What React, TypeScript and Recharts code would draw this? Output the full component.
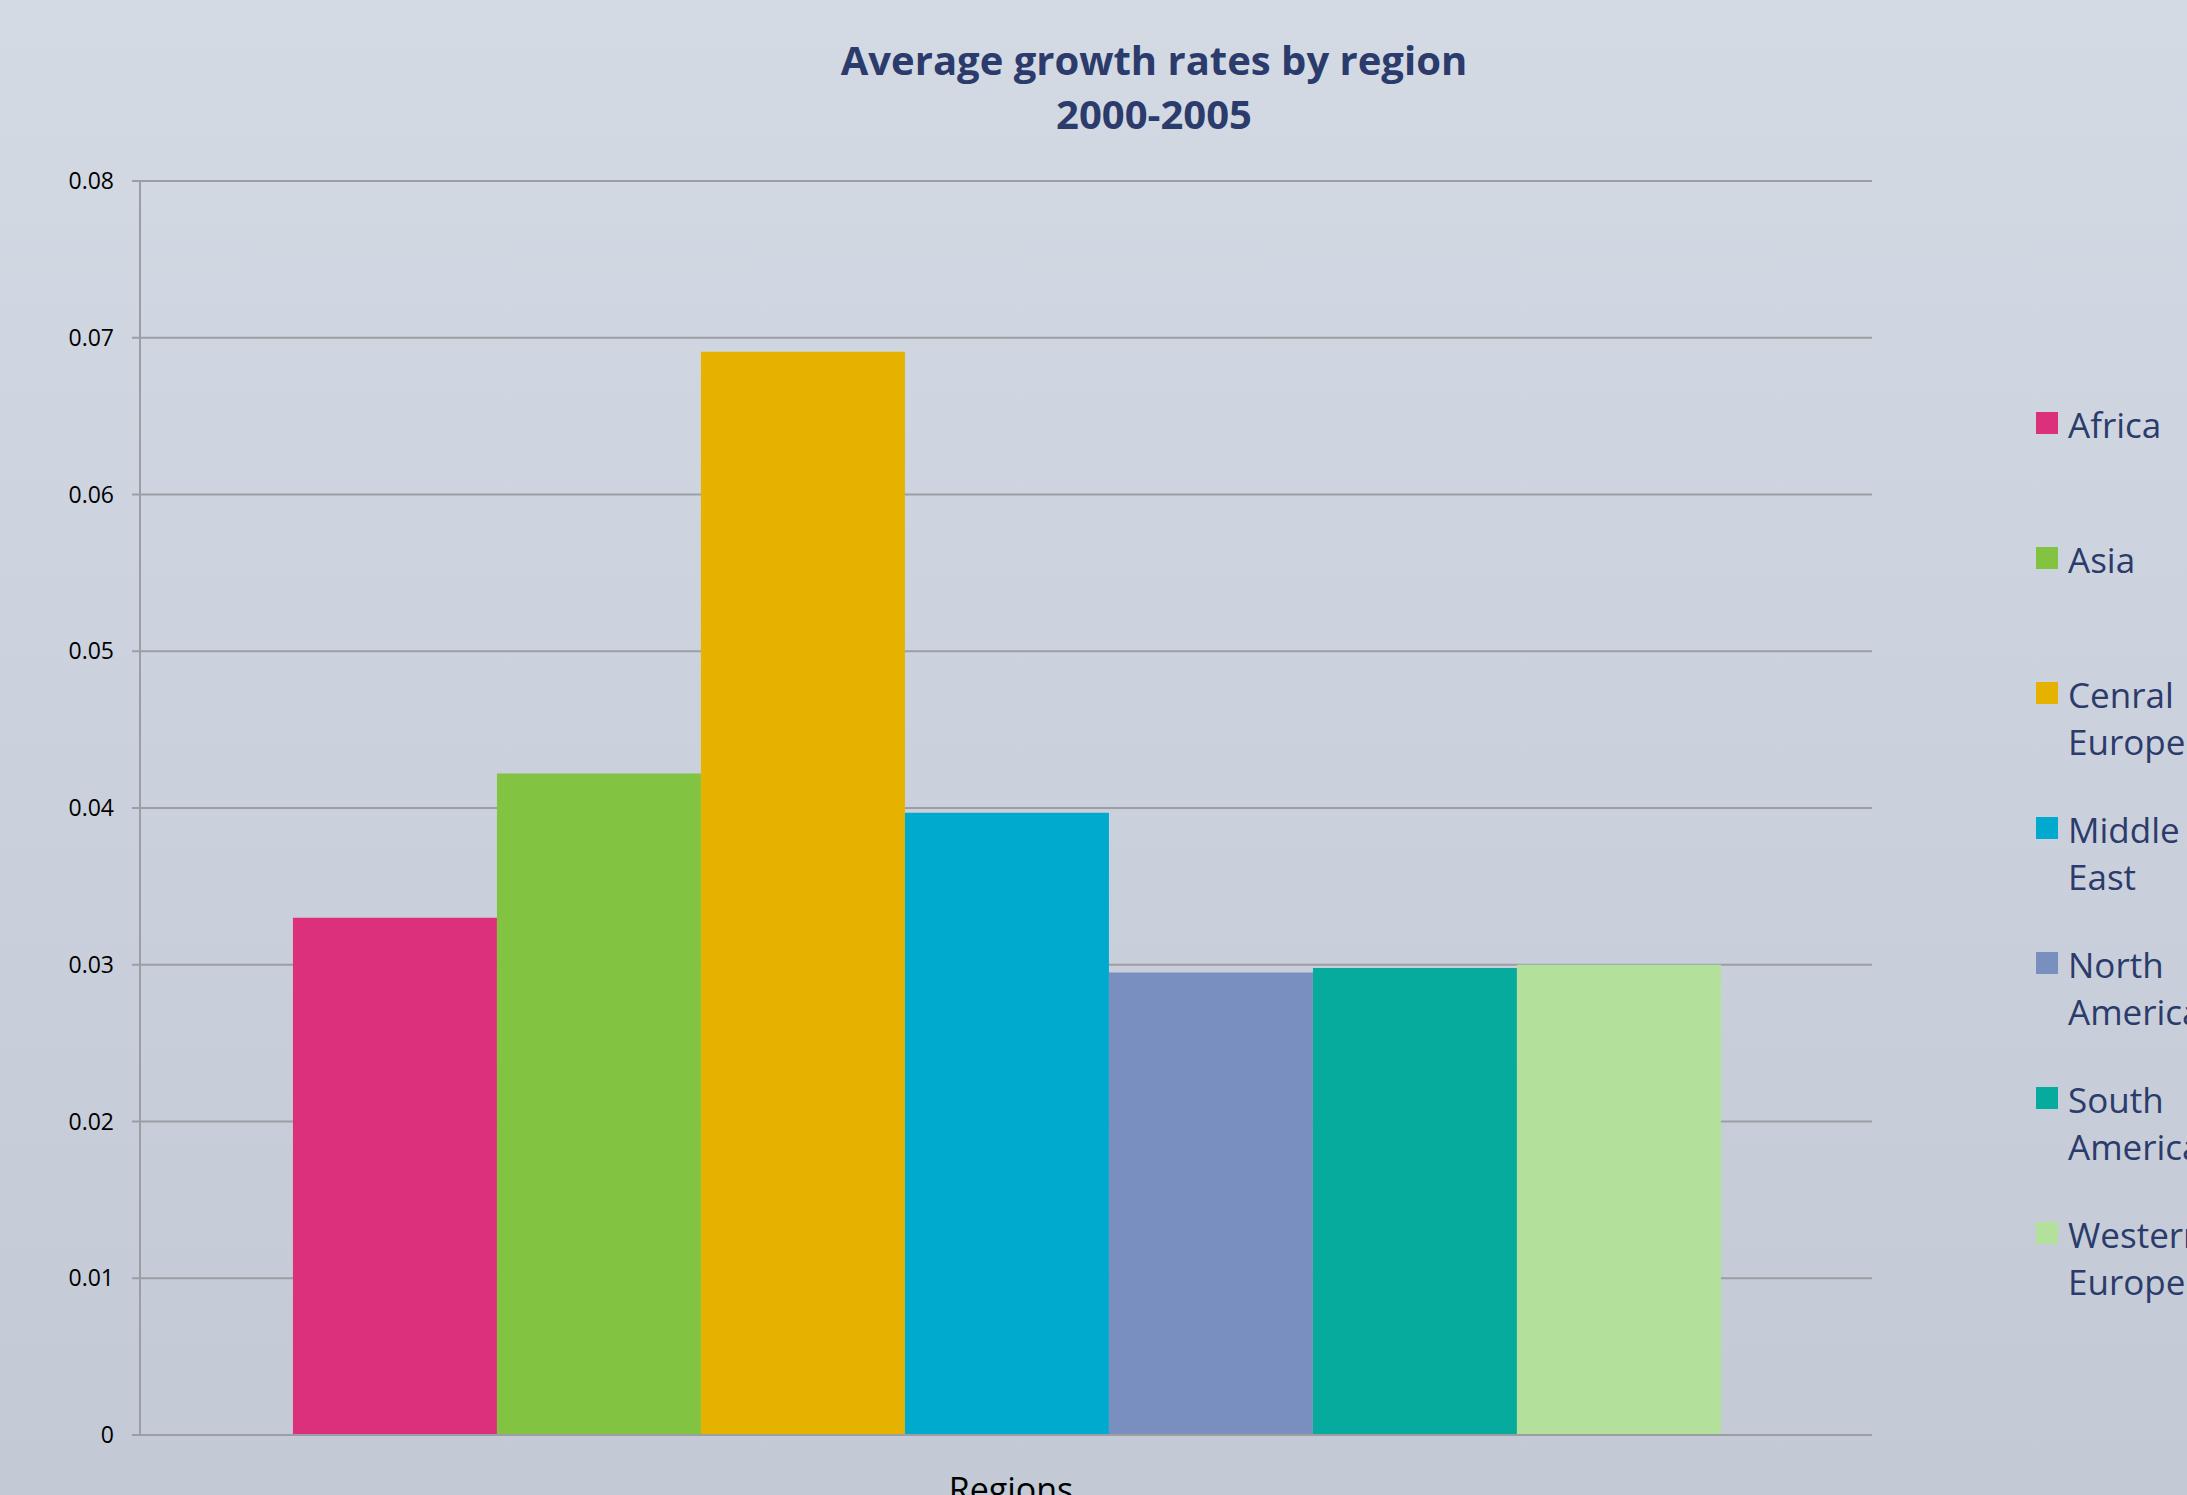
import { BarChart, Bar, XAxis, YAxis, CartesianGrid } from 'recharts'

const regions = ['Africa', 'Asia', 'Cenral Europe', 'Middle East', 'North America', 'South America', 'Western Europe']
const growthRates = [0.033, 0.0422, 0.0691, 0.0397, 0.0295, 0.0298, 0.03]
const regionColors = ['#dc2f7c', '#82c341', '#e5b200', '#00aacf', '#788fbf', '#07ab9e', '#b3e19b']
const yTicks = [0, 0.01, 0.02, 0.03, 0.04, 0.05, 0.06, 0.07, 0.08]

const row: Record<string, number | string> = { category: 'Regions' }
regions.forEach((r, i) => {
  row[r] = growthRates[i]
})
const data = [row]

const NAVY = '#2b3b6b'
const GRID = '#9c9ea4'
const FONT = '"Open Sans", sans-serif'

export default function App() {
  return (
    <div
      style={{
        position: 'fixed',
        left: 0,
        top: 0,
        width: 2187,
        height: 1495,
        overflow: 'hidden',
        background: 'linear-gradient(to bottom, #d4dae4, #c3c9d5)',
      }}
    >
      <div
        style={{
          position: 'absolute',
          left: 754,
          top: 33,
          width: 800,
          textAlign: 'center',
          fontFamily: FONT,
          fontWeight: 700,
          fontSize: 40,
          lineHeight: '54px',
          color: NAVY,
        }}
      >
        Average growth rates by region
        <br />
        2000-2005
      </div>

      <BarChart
        width={2187}
        height={1495}
        data={data}
        margin={{ top: 181, right: 315, bottom: 0, left: 0 }}
        barCategoryGap="8.83%"
        barGap={0}
      >
        <CartesianGrid vertical={false} stroke={GRID} strokeWidth={2} />
        <XAxis dataKey="category" hide height={0} />
        <XAxis
          xAxisId="frame"
          type="number"
          domain={[0, 1]}
          ticks={[0, 1]}
          tick={false}
          tickSize={13}
          height={60}
          stroke={GRID}
          strokeWidth={2}
          label={{ value: 'Regions', position: 'insideBottom', offset: -7, dx: 5, fill: '#000', fontSize: 34, fontFamily: FONT }}
        />
        <YAxis
          domain={[0, 0.08]}
          ticks={yTicks}
          interval={0}
          width={140}
          tickSize={8}
          tickMargin={18}
          stroke={GRID}
          strokeWidth={2}
          tick={{ fill: '#000', fontSize: 23, fontFamily: FONT }}
          tickFormatter={(v: number) => String(v)}
        />
        {regions.map((r, i) => (
          <Bar key={r} dataKey={r} fill={regionColors[i]} isAnimationActive={false} />
        ))}
      </BarChart>

      <div style={{ position: 'absolute', left: 2036, top: 401 }}>
        {regions.map((r, i) => (
          <div key={r} style={{ position: 'absolute', left: 0, top: i * 135, width: 300 }}>
            <div style={{ position: 'absolute', left: 0, top: 11, width: 22, height: 22, background: regionColors[i] }} />
            <div
              style={{
                position: 'absolute',
                left: 32,
                top: 0,
                fontFamily: FONT,
                fontSize: 35,
                lineHeight: '47px',
                color: NAVY,
                whiteSpace: 'nowrap',
              }}
            >
              {r.split(' ').map((w) => (
                <div key={w}>{w}</div>
              ))}
            </div>
          </div>
        ))}
      </div>
    </div>
  )
}
